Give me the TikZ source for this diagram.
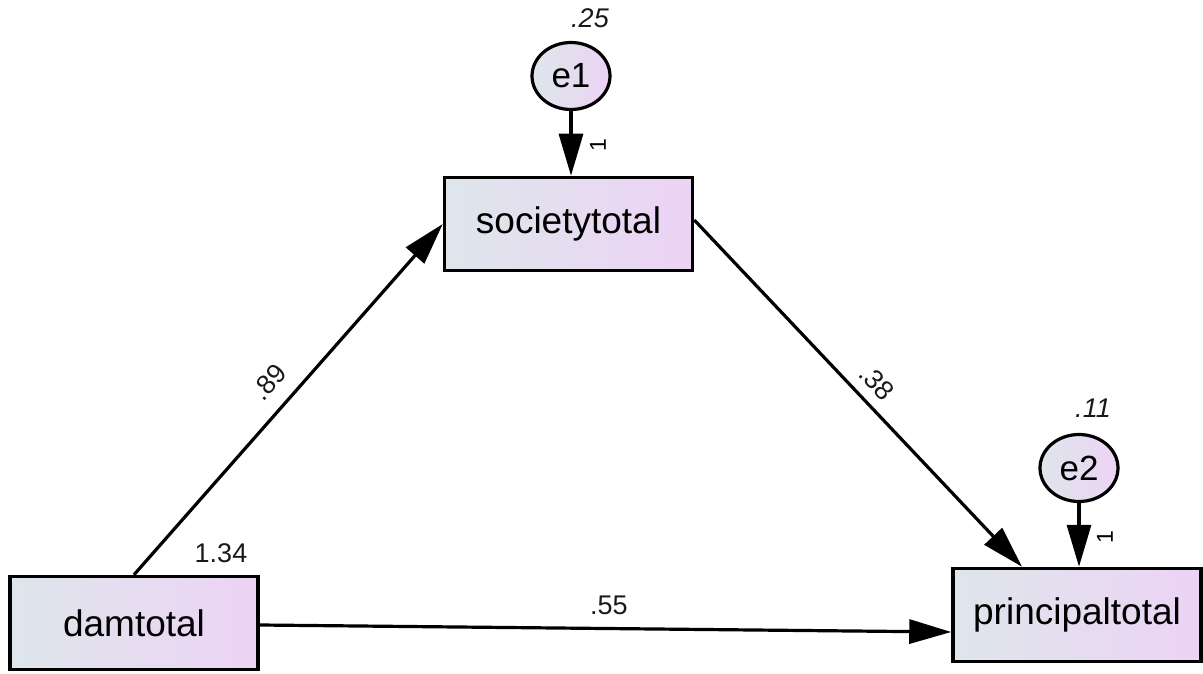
\documentclass[tikz,border=0pt]{standalone}
\usepackage{fontspec}
\setmainfont{Liberation Sans}
\usetikzlibrary{arrows.meta,calc,shapes.geometric}
\definecolor{fillL}{RGB}{222,230,235}
\definecolor{fillR}{RGB}{237,211,245}
\begin{document}
\begin{tikzpicture}[x=1pt,y=-1pt,
  obs/.style={draw=black,line width=3.5pt,minimum width=248pt,minimum height=93pt,
    inner sep=0pt,left color=fillL,right color=fillR,
    font=\fontsize{37}{40}\selectfont},
  err/.style={ellipse,draw=black,line width=3.2pt,minimum width=78pt,minimum height=67pt,
    inner sep=0pt,left color=fillL,right color=fillR,
    font=\fontsize{35}{38}\selectfont},
  regpath/.style={line width=3.2pt,-{Triangle[length=42pt,width=24pt]}},
  est/.style={font=\fontsize{27}{30}\selectfont,inner sep=0pt,text=black!90},
  varest/.style={font=\itshape\fontsize{27}{30}\selectfont,inner sep=0pt,text=black!90},
  fixed/.style={font=\fontsize{23}{26}\selectfont,inner sep=0pt}
]
\useasboundingbox (0,0) rectangle (1203,674);

% observed variables
\node[obs] (dam) at (134,623) {damtotal};
\node[obs] (soc) at (568.5,224) {societytotal};
\node[obs] (pri) at (1077,615) {principaltotal};

% error terms
\node[err] (e1) at (571,76) {e1};
\node[err] (e2) at (1079,468) {e2};

% variances
\node[varest] (v1) at (590,18) {.25};
\node[varest] (v2) at (1093,408) {.11};
\node[est] (v0) at (221,553) {1.34};

% error paths fixed to 1 (label turned along the path)
\draw[regpath] (e1.south) -- (e1.south |- soc.north);
\node[fixed] (f1) at (598,145) {\rotatebox{90}{1}};
\draw[regpath] (e2.south) -- (e2.south |- pri.north);
\node[fixed] (f2) at (1105,537) {\rotatebox{90}{1}};

% regression paths
\draw[regpath] (dam.north) -- (soc.west)
  node[est,midway,sloped,above=15pt] {.89};
\draw[regpath] ($(soc.east)+(0,-4)$) -- ($(pri.north)+(-55,0)$)
  node[est,pos=0.51,sloped,above=10pt] {.38};
\draw[regpath] ($(dam.east)+(0,2)$) -- ($(pri.west)+(0,17)$)
  node[est,pos=0.505,above=12pt] {.55};
\end{tikzpicture}
\end{document}
